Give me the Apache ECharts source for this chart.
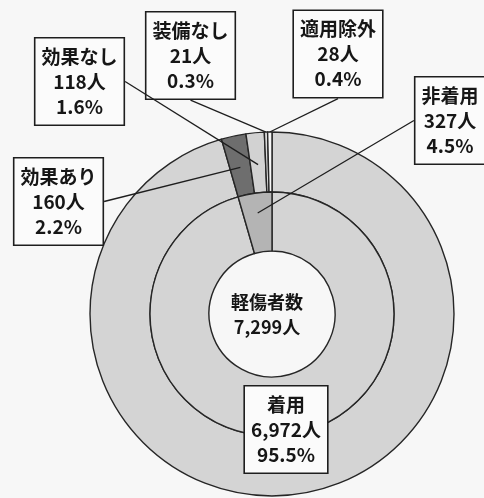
<!DOCTYPE html>
<html><head><meta charset="utf-8">
<script src="https://cdn.jsdelivr.net/npm/echarts@6/dist/echarts.min.js"></script>
<style>html,body{margin:0;padding:0;background:#f7f7f7}#c{width:484px;height:498px}</style>
</head><body><div id="c"></div>
<script>
// ---- data ----
const innerNames = ['着用', '非着用'];
const innerValues = [6972, 327];
const outerNames = ['着用', '効果あり', '効果なし', '装備なし', '適用除外'];
const outerValues = [6972, 160, 118, 21, 28];
const centerTitle = '軽傷者数';
const unit = '人';

// ---- styles / layout ----
const fills = { '着用': '#d4d4d4', '非着用': '#b4b4b4', '効果あり': '#6e6e6e', '効果なし': '#d2d2d2', '装備なし': '#dadada', '適用除外': '#f6f6f6' };
const labelBoxes = { '着用': [286, 429.5], '非着用': [450, 120.5], '効果あり': [58.5, 201.5], '効果なし': [79.5, 81.5], '装備なし': [190.5, 55.5], '適用除外': [338, 54] };
const CX = 272, CY = 314;

function fmt(n) { return String(n).replace(/\B(?=(\d{3})+(?!\d))/g, ','); }
const total = innerValues.reduce((a, b) => a + b, 0);

const labelStyle = {
  position: 'outside',
  formatter: p => p.name + '\n' + fmt(p.value) + unit + '\n' + p.percent.toFixed(1) + '%',
  fontFamily: 'Noto Sans CJK JP', fontWeight: 'bold', fontSize: 19, lineHeight: 25,
  color: '#161616', align: 'center',
  backgroundColor: '#fbfbfb', borderColor: '#1e1e1e', borderWidth: 1.6,
  padding: [6, 6, 5, 6]
};
const lineStyle = { show: true, length: 6, length2: 0, lineStyle: { color: '#1e1e1e', width: 1.3 } };

function layoutFor(names) {
  return function (params) {
    const p = labelBoxes[names[params.dataIndex]];
    if (!p) return {};
    return { x: p[0], y: p[1], align: 'center', verticalAlign: 'middle' };
  };
}

function items(names, values, opts) {
  return names.map((n, i) => ({
    name: n, value: values[i],
    itemStyle: opts.transparent ? { color: 'rgba(0,0,0,0)', borderWidth: 0 } : { color: fills[n] },
    label: { show: opts.labels.indexOf(n) >= 0 },
    labelLine: { show: opts.lines.indexOf(n) >= 0 }
  }));
}

const border = { borderColor: '#262626', borderWidth: 1.4 };

const chart = echarts.init(document.getElementById('c'), null, { renderer: 'canvas' });
chart.setOption({
  backgroundColor: '#f7f7f7',
  animation: false,
  series: [
    { // outer ring
      type: 'pie', center: [CX, CY], radius: [122, 182], startAngle: 90, clockwise: true,
      silent: true, avoidLabelOverlap: false, z: 2,
      itemStyle: border, label: labelStyle, labelLine: lineStyle,
      labelLayout: layoutFor(outerNames),
      data: items(outerNames, outerValues, { labels: ['装備なし', '適用除外'], lines: ['装備なし', '適用除外'] })
    },
    { // inner ring
      type: 'pie', center: [CX, CY], radius: [63, 122], startAngle: 90, clockwise: true,
      silent: true, avoidLabelOverlap: false, z: 3,
      itemStyle: border, label: labelStyle, labelLine: lineStyle,
      labelLayout: layoutFor(innerNames),
      data: items(innerNames, innerValues, { labels: ['着用'], lines: [] })
    },
    { // label carrier for outer breakdown (leader lines reaching into the ring)
      type: 'pie', center: [CX, CY], radius: [0, 150], startAngle: 90, clockwise: true,
      silent: true, avoidLabelOverlap: false, z: 4,
      label: labelStyle, labelLine: lineStyle,
      labelLayout: layoutFor(outerNames),
      data: items(outerNames, outerValues, { transparent: true, labels: ['効果あり', '効果なし'], lines: ['効果あり', '効果なし'] })
    },
    { // label carrier for inner 非着用
      type: 'pie', center: [CX, CY], radius: [0, 102], startAngle: 90, clockwise: true,
      silent: true, avoidLabelOverlap: false, z: 4,
      label: labelStyle, labelLine: lineStyle,
      labelLayout: layoutFor(innerNames),
      data: items(innerNames, innerValues, { transparent: true, labels: ['非着用'], lines: ['非着用'] })
    }
  ],
  graphic: [{
    type: 'text', x: 267, y: 315, z: 10,
    style: {
      text: centerTitle + '\n' + fmt(total) + unit,
      align: 'center', verticalAlign: 'middle',
      font: 'bold 18px "Noto Sans CJK JP"', lineHeight: 25, fill: '#161616'
    }
  }]
});
</script>
</body></html>
